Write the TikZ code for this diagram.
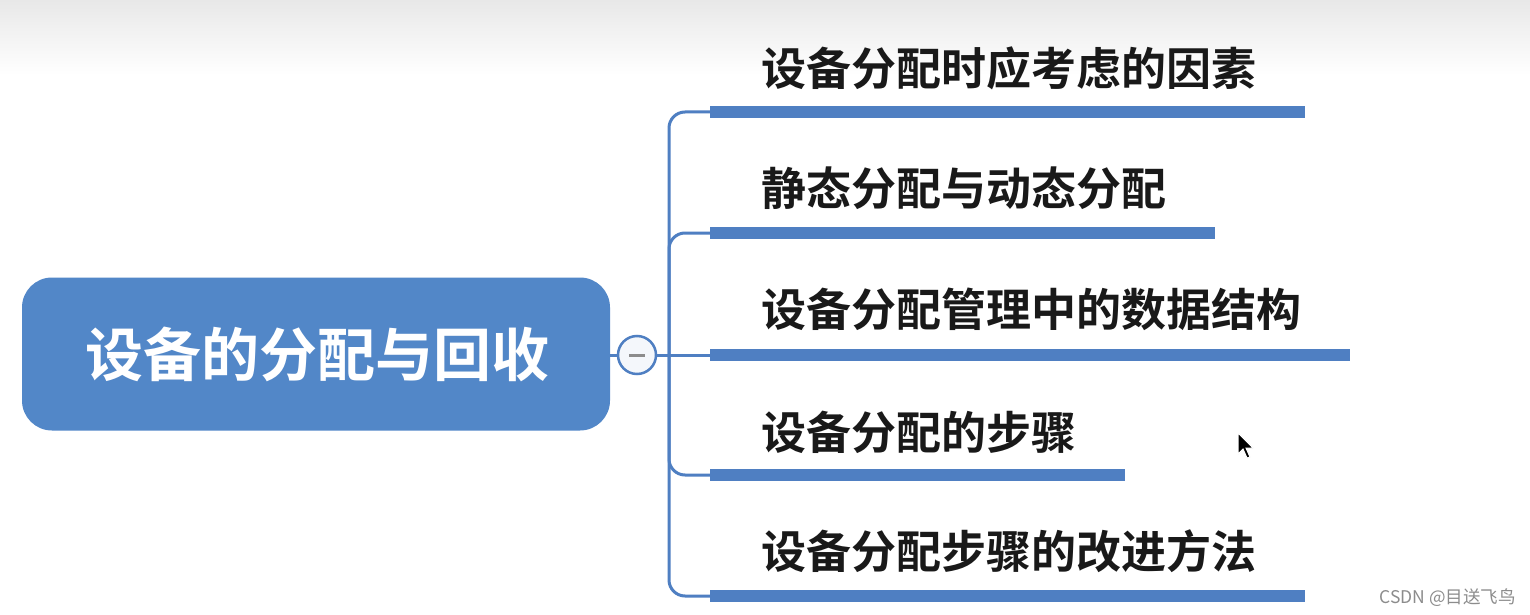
\documentclass[tikz,border=0pt]{standalone}
\usepackage{fontspec}
\newfontfamily\cjk{Noto Sans CJK SC}
\newfontfamily\cjkb{Noto Sans CJK SC Bold}
\usetikzlibrary{shapes.misc}
\definecolor{mblue}{HTML}{5287C8}
\definecolor{lblue}{HTML}{4F7FC2}
\tikzset{
  rootbox/.style={rectangle, rounded corners=30pt, fill=mblue, minimum width=588pt, minimum height=153pt, inner sep=0pt},
  toggle/.style={circle, draw=lblue, line width=2.5pt, fill=white!94!lblue, minimum size=38pt, inner sep=0pt},
  thin/.style={draw=lblue, line width=3pt, rounded corners=16pt},
  bar/.style={draw=lblue, line width=12pt},
  label/.style={anchor=west, inner sep=0pt, font=\cjkb\fontsize{45}{54}\selectfont, text=black!90},
}
\begin{document}
\begin{tikzpicture}[x=1pt,y=-1pt]
\useasboundingbox (0,0) rectangle (1530,615);
\shade[top color=black!9, bottom color=white] (0,0) rectangle (1530,75);
\fill[white] (0,75) rectangle (1530,615);
% root
\node[rootbox] (root) at (316,354) {};
\node[text=white, font=\cjkb\fontsize{58}{66}\selectfont, inner sep=0pt] (roottext) at (317,354) {设备的分配与回收};
\node[toggle] (tog) at (637,355) {};
\draw[black!45, line width=3pt] ([xshift=-8pt]tog.center) coordinate (m1) -- ([xshift=8pt]tog.center) coordinate (m2);
\coordinate (j) at (669,355);
\draw[draw=lblue, line width=3pt] (root.east |- tog) -- (tog.west);
% branch starts and ends
\coordinate (s1) at (710,112); \coordinate (e1) at (1305,112);
\coordinate (s2) at (710,233); \coordinate (e2) at (1215,233);
\coordinate (s3) at (710,355); \coordinate (e3) at (1350,355);
\coordinate (s4) at (710,475); \coordinate (e4) at (1125,475);
\coordinate (s5) at (710,596); \coordinate (e5) at (1305,596);
\draw[draw=lblue, line width=3pt] (tog.east) -- (s3);
\draw[thin] (j) |- (s1);
\draw[thin] (j) |- (s2);
\draw[thin] (j) |- (s4);
\draw[thin] (j) |- (s5);
\foreach \i in {1,...,5} { \draw[bar] (s\i) -- (e\i); }
\node[label] (t1) at (761,68) {设备分配时应考虑的因素};
\node[label] (t2) at (761,188) {静态分配与动态分配};
\node[label] (t3) at (761,309) {设备分配管理中的数据结构};
\node[label] (t4) at (761,432) {设备分配的步骤};
\node[label] (t5) at (761,551) {设备分配步骤的改进方法};
% cursor
\fill[black, draw=white, line width=1pt] (1238,433) -- (1238,454) -- (1243,449) -- (1247,458) -- (1250,457) -- (1246,448) -- (1253,448) -- cycle;
% watermark
\node[anchor=east, inner sep=0pt, text=black!45, font=\cjk\fontsize{17.5}{20}\selectfont] (wm) at (1516,598) {CSDN @目送飞鸟};
\end{tikzpicture}
\end{document}
